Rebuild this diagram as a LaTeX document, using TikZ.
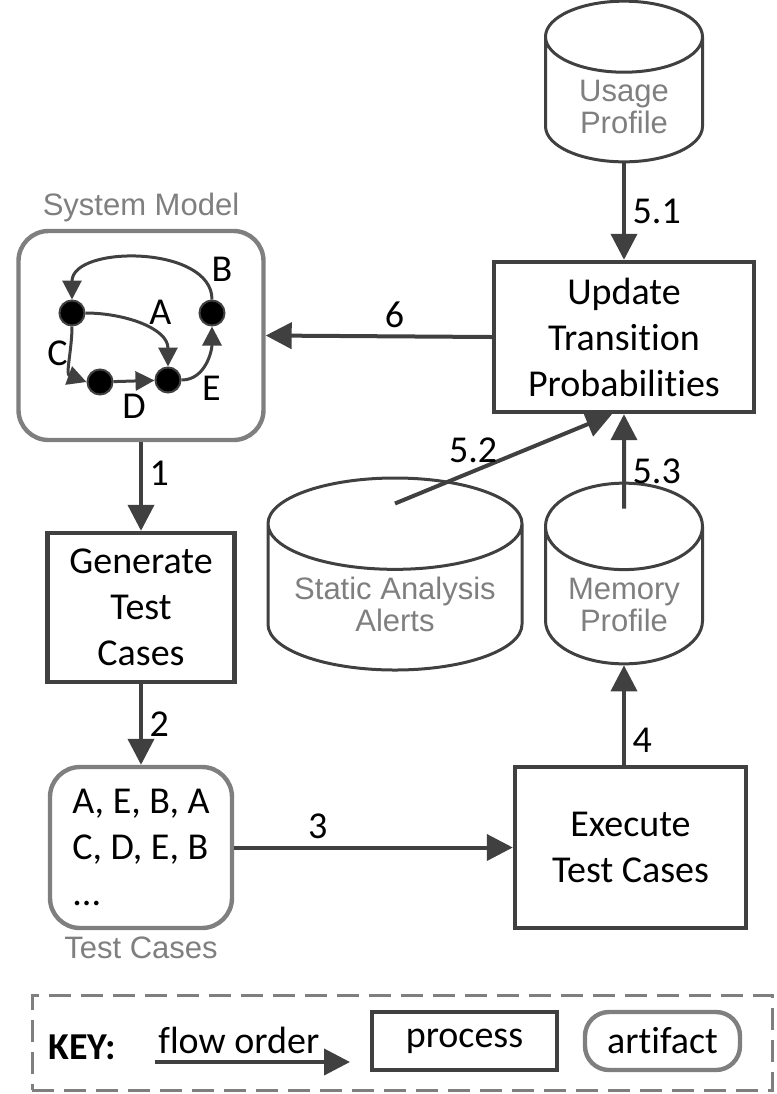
\documentclass[tikz,border=0pt]{standalone}
\usepackage{fontspec}
\setmainfont{Carlito}[Ligatures={NoCommon}]
\newfontfamily\arialfont{Liberation Sans}
\usetikzlibrary{shapes.geometric,arrows.meta}
\definecolor{linegray}{HTML}{404040}
\definecolor{artgray}{HTML}{7F7F7F}
\begin{document}
\begin{tikzpicture}[x=0.5pt, y=-0.5pt,
            every node/.style={font=\fontsize{19}{23}\selectfont, text=black},
            flow/.style={draw=linegray, line width=2pt, -{Triangle[length=13pt, width=13pt]}},
            process/.style={draw=linegray, line width=2.2pt, rectangle, align=center, inner sep=0pt},
            artifact/.style={draw=artgray, line width=2.2pt, rounded corners=15pt, inner sep=0pt},
            graytext/.style={font=\arialfont\fontsize{15.5}{16}\selectfont, text=artgray, align=center}]
            \tikzset{store/.style={cylinder, shape border rotate=90, draw=linegray, line width=1.5pt, graytext, minimum width=78.5pt, minimum height=58pt, aspect=0.69, anchor=shape center}}
            \tikzset{state/.style={circle, draw=linegray, fill=black, line width=1pt, minimum size=12.5pt, inner sep=0pt}}
            \tikzset{trans/.style={draw=linegray, line width=1.5pt, -{Triangle[length=9.5pt, width=9.5pt]}}}
            \tikzset{tlabel/.style={inner sep=1pt}}
            \useasboundingbox (0,0) rectangle (777,1094);
            \node [store] (usage) at (624, 81.5) {Usage\\Profile};
            \node [store, minimum width=127pt, aspect=0.425] (static) at (395, 574) {Static Analysis\\Alerts};
            \node [store] (memory) at (624, 573.5) {Memory\\Profile};
            \node [process, minimum width=130pt, minimum height=75pt] (update) at (624, 337) {Update\\Transition\\Probabilities};
            \node [artifact, minimum width=122.5pt, minimum height=104.5pt, label={[graytext]above:System Model}] (model) at (141, 335.5) {};
            \node [process, minimum width=93.5pt, minimum height=74.5pt] (generate) at (141, 607.5) {Generate\\Test\\Cases};
            \node [artifact, minimum width=91pt, minimum height=80.5pt, align=left, label={[graytext]below:Test Cases}] (cases) at (141, 847.5) {A, E, B, A\\C, D, E, B\\...};
            \node [process, minimum width=115.5pt, minimum height=80.5pt] (execute) at (630.5, 847.5) {Execute\\Test Cases};
            \node [state] (s1) at (72, 313) {};
            \node [state] (s2) at (212, 313) {};
            \node [state] (s3) at (100, 382) {};
            \node [state] (s4) at (168, 380) {};
            \draw [trans] (s2.north) to[out=90, in=90] node[tlabel, pos=0.1, above right] {B} (s1.north);
            \draw [trans] (s1.east) to[out=0, in=90] node[tlabel, pos=0.55, above right] {A} (s4.north);
            \draw [trans] (s1.south) to[out=-90, in=160] node[tlabel, pos=0.4, left] {C} (s3.west);
            \draw [trans] (s3) -- node[tlabel, below=5pt] {D} (s4);
            \draw [trans] (s4.east) to[out=0, in=-90] node[tlabel, pos=0.3, below right] {E} (s2.south);
            \draw [flow] (usage.south) -- node[right] {5.1} (update.north);
            \draw [flow] (update.west) -- node[above, pos=0.43] {6} (model.east);
            \draw [flow] (model.south) -- node[right, pos=0.35] {1} (generate.north);
            \draw [flow] (generate.south) -- node[right] {2} (cases.north);
            \draw [flow] (cases.east) -- node[above, pos=0.3] {3} (execute.west);
            \draw [flow] (execute.north -| memory.south) -- node[right, pos=0.25] {4} (memory.south);
            \draw [flow] ([yshift=-13.5pt]memory.north) -- node[right, pos=0.4] {5.3} (update.south);
            \draw [flow] ([yshift=-13.5pt]static.north) -- node[above, pos=0.36] {5.2} ([xshift=-6pt]update.south);
            \node [draw=artgray, dash pattern=on 11pt off 5pt, line width=1.5pt, minimum width=370pt, minimum height=47.5pt] (key) at (402, 1042.5) {};
            \node [font=\bfseries\fontsize{19}{23}\selectfont] (keytitle) at (82, 1047) {KEY:};
            \coordinate (flowa) at (155, 1062);
            \coordinate (flowb) at (350, 1062);
            \draw [flow] (flowa) -- node[above, pos=0.43] {flow order} (flowb);
            \node [process, minimum width=92.5pt, minimum height=29pt] (keyprocess) at (464.5, 1041) {process};
            \node [artifact, minimum width=77.5pt, minimum height=29pt, rounded corners=12pt] (keyartifact) at (662.5, 1041) {artifact};
        \end{tikzpicture}
\end{document}
